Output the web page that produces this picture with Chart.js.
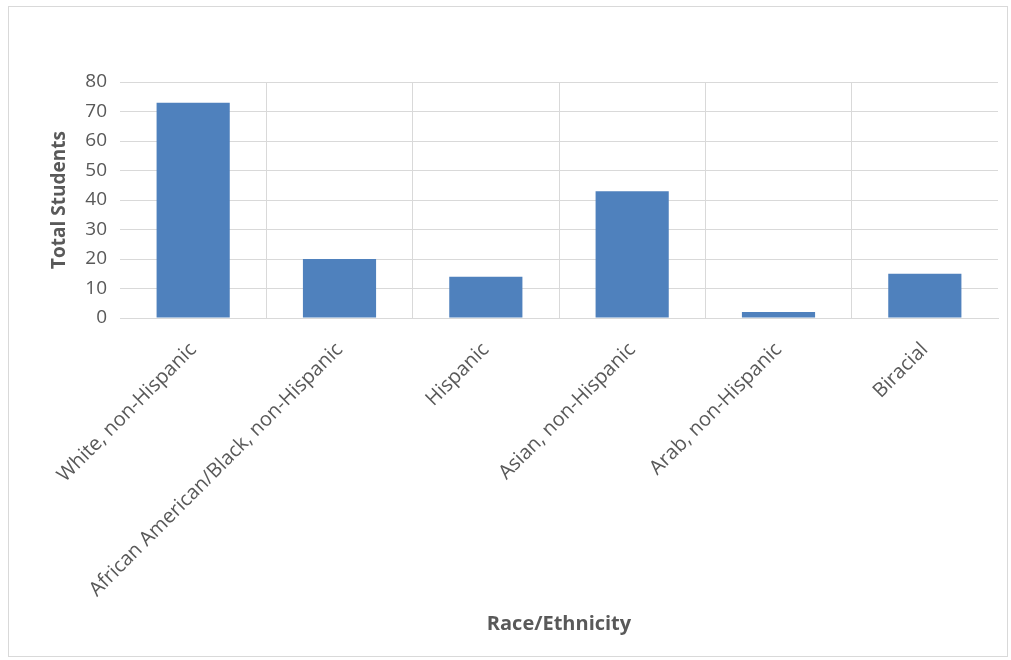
<!DOCTYPE html>
<html>
<head>
<meta charset="utf-8">
<script src="https://cdn.jsdelivr.net/npm/chart.js@4.4.0/dist/chart.umd.min.js"></script>
<style>
  html, body { margin: 0; padding: 0; background: #fff; }
  #frame {
    position: absolute; left: 8px; top: 6px; width: 1000px; height: 651px;
    border: 1px solid #d9d9d9; box-sizing: border-box;
  }
  #wrap { position: absolute; left: 0; top: 0; width: 1011px; height: 660px; }
</style>
</head>
<body>
<div id="frame"></div>
<div id="wrap"><canvas id="raceChart"></canvas></div>
<script>
// Dữ liệu biểu đồ
const categories = [
    'White, non-Hispanic',
    'African American/Black, non-Hispanic',
    'Hispanic',
    'Asian, non-Hispanic',
    'Arab, non-Hispanic',
    'Biracial'
];
const totalStudents = [73, 20, 14, 43, 2, 15];
const yTicks = [0, 10, 20, 30, 40, 50, 60, 70, 80];

const textColor = '#595959';
const gridColor = '#d9d9d9';
const fontFamily = '"Open Sans", "Liberation Sans", sans-serif';

Chart.defaults.font.family = fontFamily;
Chart.defaults.color = textColor;

const canvasElement = document.getElementById('raceChart');

new Chart(canvasElement.getContext('2d'), {
    type: 'bar',
    data: {
        labels: categories,
        datasets: [{
            label: 'Total Students',
            data: totalStudents,
            backgroundColor: '#4f81bd',
            borderWidth: 0,
            barPercentage: 0.5,
            categoryPercentage: 1
        }]
    },
    options: {
        responsive: true,
        maintainAspectRatio: false,
        animation: false,
        layout: {
            padding: { left: 44, right: 13, top: 82, bottom: 20 }
        },
        plugins: {
            legend: { display: false },
            title: { display: false },
            tooltip: { enabled: false }
        },
        scales: {
            x: {
                ticks: {
                    maxRotation: 45,
                    minRotation: 45,
                    autoSkip: false,
                    padding: 20,
                    color: textColor,
                    font: { size: 20 }
                },
                grid: {
                    offset: true,
                    drawTicks: false,
                    color: function (ctx) {
                        // chỉ giữ các đường chia bên trong
                        if (ctx.type !== 'tick' || ctx.index === 0) return 'rgba(0,0,0,0)';
                        return gridColor;
                    }
                },
                border: { display: true, color: gridColor },
                title: {
                    display: true,
                    text: 'Race/Ethnicity',
                    color: textColor,
                    font: { size: 20, weight: 'bold' }
                },
                afterFit: function (scale) {
                    scale.height = 322;
                }
            },
            y: {
                min: 0,
                max: 80,
                afterBuildTicks: function (scale) {
                    scale.ticks = yTicks.map(v => ({ value: v }));
                },
                ticks: {
                    padding: 13,
                    color: textColor,
                    font: { size: 19 }
                },
                grid: {
                    drawTicks: false,
                    color: gridColor
                },
                border: { display: false },
                title: {
                    display: true,
                    text: 'Total Students',
                    color: textColor,
                    font: { size: 19, weight: 'bold' }
                },
                afterFit: function (scale) {
                    scale.width = 76;
                }
            }
        }
    }
});
</script>
</body>
</html>
